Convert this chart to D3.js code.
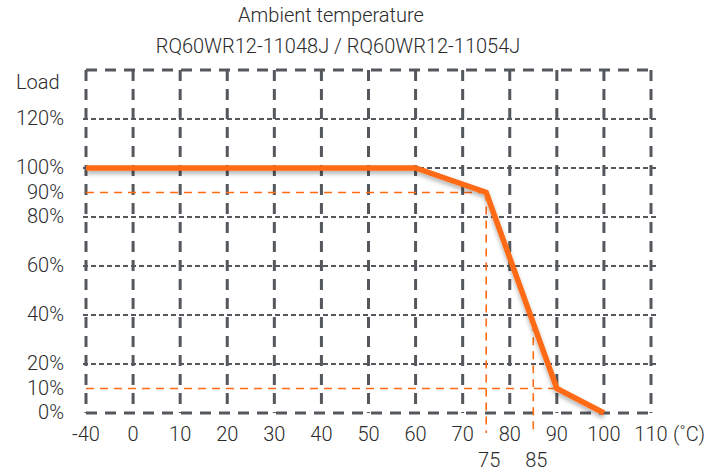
<!DOCTYPE html>
<html>
<head>
<meta charset="utf-8">
<script src="https://cdn.jsdelivr.net/npm/d3@7"></script>
<style>
  body { margin: 0; background: #fff; }
  text { font-family: Roboto, "Noto Sans", sans-serif; font-weight: 300; fill: #2b2b2b; font-size: 20px; }
</style>
</head>
<body>
<svg id="chart" width="719" height="473"></svg>
<script>
// values
const xTicks = [-40, 0, 10, 20, 30, 40, 50, 60, 70, 80, 90, 100, 110];
const yTicks = [0, 10, 20, 40, 60, 80, 90, 100, 120];
const yGrid = [20, 40, 60, 80, 100, 120];
const curveTemp = [-40, 60, 75, 90, 100];
const curveLoad = [100, 100, 90, 10, 0];
const markTemp = [75, 85];
const markLoad = [90, 10];

const plotLeft = 86, plotRight = 651, plotTop = 70, plotBottom = 413;
const cell = (plotRight - plotLeft) / 12;
const gray = "#54585c", orange = "#ff6a13";

const svg = d3.select("#chart");

// -40 sits one cell left of 0, the rest is linear
const x = d3.scaleLinear().domain([-40, 0, 110]).range([plotLeft, plotLeft + cell, plotRight]);
const y = d3.scaleLinear().domain([0, 140]).range([plotBottom, plotTop]);

const defs = svg.append("defs");
defs.append("filter").attr("id", "shadow").attr("x", "-5%").attr("y", "-20%").attr("width", "110%").attr("height", "160%")
  .append("feDropShadow").attr("dx", 0).attr("dy", 3).attr("stdDeviation", 2)
  .attr("flood-color", "#000").attr("flood-opacity", 0.3);

// titles
svg.append("text").attr("x", 331).attr("y", 22).attr("text-anchor", "middle")
  .text("Ambient temperature");
svg.append("text").attr("x", 338).attr("y", 53).attr("text-anchor", "middle")
  .text("RQ60WR12-11048J / RQ60WR12-11054J");
svg.append("text").attr("x", 16).attr("y", 89).text("Load");

// horizontal inner grid (short dashes)
svg.append("g").selectAll("line").data(yGrid).enter().append("line")
  .attr("x1", plotLeft - 3).attr("x2", plotRight + 6)
  .attr("y1", d => y(d)).attr("y2", d => y(d))
  .attr("stroke", gray).attr("stroke-width", 2).attr("stroke-dasharray", "5,3");

// vertical grid + border (long dashes)
svg.append("g").selectAll("line").data(xTicks).enter().append("line")
  .attr("x1", d => x(d)).attr("x2", d => x(d))
  .attr("y1", plotTop).attr("y2", plotBottom)
  .attr("stroke", gray).attr("stroke-width", 3).attr("stroke-dasharray", "11,8");
svg.append("g").selectAll("line").data([plotTop, plotBottom]).enter().append("line")
  .attr("x1", plotLeft).attr("x2", plotRight)
  .attr("y1", d => d).attr("y2", d => d)
  .attr("stroke", gray).attr("stroke-width", 3).attr("stroke-dasharray", "11,8");

// orange helper lines
const line = d3.line().x(d => x(d[0])).y(d => y(d[1]));
const interp = t => {
  for (let i = 1; i < curveTemp.length; i++) {
    if (t <= curveTemp[i]) {
      const f = (t - curveTemp[i - 1]) / (curveTemp[i] - curveTemp[i - 1]);
      return curveLoad[i - 1] + f * (curveLoad[i] - curveLoad[i - 1]);
    }
  }
  return 0;
};
const helpers = svg.append("g").attr("fill", "none").attr("stroke", orange)
  .attr("stroke-width", 1.6).attr("stroke-dasharray", "8,6");
// 90% to 75 degrees, 10% to 90 degrees
helpers.append("path").attr("d", line([[-40, markLoad[0]], [markTemp[0], markLoad[0]]]));
helpers.append("path").attr("d", line([[-40, markLoad[1]], [90, markLoad[1]]]));
markTemp.forEach(t => {
  helpers.append("line")
    .attr("x1", x(t)).attr("x2", x(t))
    .attr("y1", y(interp(t))).attr("y2", plotBottom + 20);
});

// derating curve
svg.append("path")
  .datum(curveTemp.map((t, i) => [t, curveLoad[i]]))
  .attr("d", line)
  .attr("fill", "none").attr("stroke", orange).attr("stroke-width", 5.5)
  .attr("stroke-linejoin", "miter")
  .attr("filter", "url(#shadow)");

// y labels
svg.append("g").selectAll("text").data(yTicks).enter().append("text")
  .attr("x", 64).attr("y", d => y(d) - 1).attr("dy", "0.35em")
  .attr("text-anchor", "end")
  .text(d => d + "%");

// x labels
svg.append("g").selectAll("text").data(xTicks).enter().append("text")
  .attr("x", d => x(d)).attr("y", 434).attr("dy", "0.35em")
  .attr("text-anchor", "middle")
  .text(d => d);
svg.append("text").attr("x", 689).attr("y", 434).attr("dy", "0.35em")
  .attr("text-anchor", "middle").text("(˚C)");
svg.append("g").selectAll("text").data(markTemp).enter().append("text")
  .attr("x", d => x(d) + 3).attr("y", 460).attr("dy", "0.35em")
  .attr("text-anchor", "middle")
  .text(d => d);
</script>
</body>
</html>
